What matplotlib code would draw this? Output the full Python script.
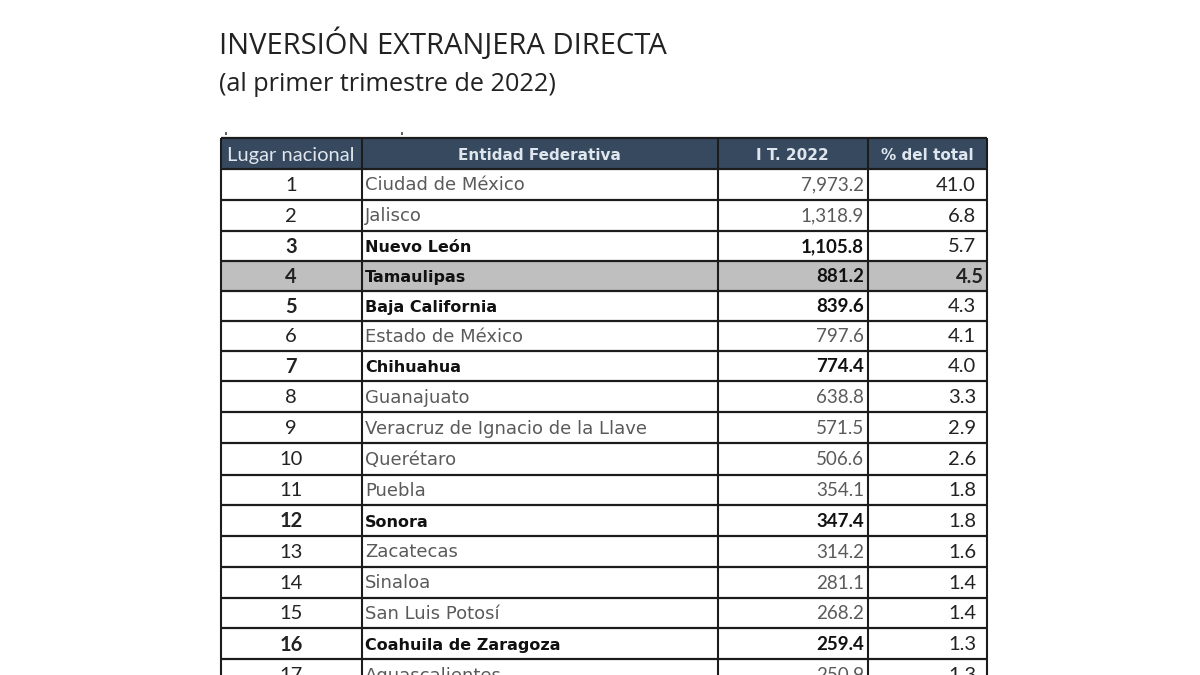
import matplotlib
matplotlib.use("Agg")
import matplotlib.pyplot as plt
from matplotlib.patches import Rectangle

title = "INVERSIÓN EXTRANJERA DIRECTA"
subtitle = "(al primer trimestre de 2022)"
headers = ["Lugar nacional", "Entidad Federativa", "I T. 2022", "% del total"]
ranks = ["1", "2", "3", "4", "5", "6", "7", "8", "9", "10", "11", "12", "13", "14", "15", "16", "17"]
states = ["Ciudad de México", "Jalisco", "Nuevo León", "Tamaulipas", "Baja California",
          "Estado de México", "Chihuahua", "Guanajuato", "Veracruz de Ignacio de la Llave",
          "Querétaro", "Puebla", "Sonora", "Zacatecas", "Sinaloa", "San Luis Potosí",
          "Coahuila de Zaragoza", "Aguascalientes"]
amounts = ["7,973.2", "1,318.9", "1,105.8", "881.2", "839.6", "797.6", "774.4", "638.8", "571.5",
           "506.6", "354.1", "347.4", "314.2", "281.1", "268.2", "259.4", "250.9"]
shares = ["41.0", "6.8", "5.7", "4.5", "4.3", "4.1", "4.0", "3.3", "2.9", "2.6", "1.8", "1.8",
          "1.6", "1.4", "1.4", "1.3", "1.3"]
bold_states = {"Nuevo León", "Tamaulipas", "Baja California", "Chihuahua", "Sonora", "Coahuila de Zaragoza"}
highlight = "Tamaulipas"

# layout (pixel grid of the page)
col_x = [220.5, 361.5, 717.5, 867.5, 986.5]
row_y = [138, 168.5, 199.5, 230.5, 260.5, 290.5, 320.5, 350.5, 381, 412, 443, 474.5, 505, 535.5, 566.5, 597.5, 628, 659, 690]
LINE = "#1c1c1c"
HEAD = "#36495f"
GREY = "#5a5a5a"
BODY = "Lato"

fig = plt.figure(figsize=(12, 6.75), dpi=100, facecolor="white")
ax = fig.add_axes([0, 0, 1, 1])
ax.set_xlim(0, 1200)
ax.set_ylim(675, 0)
ax.axis("off")

ax.text(219, 45, title, fontsize=21, family="Open Sans", color="#222222", va="center", ha="left")
ax.text(219, 84.5, subtitle, fontsize=18.2, family="Open Sans", color="#222222", va="center", ha="left")

# small specks above the table
ax.plot([226, 226], [131.5, 134.5], color="#444444", lw=1.2, solid_capstyle="butt")
ax.plot([402, 402], [131.5, 134.5], color="#444444", lw=1.2, solid_capstyle="butt")

ax.add_patch(Rectangle((col_x[0], row_y[0]), col_x[-1] - col_x[0], row_y[1] - row_y[0], fc=HEAD, ec="none"))
for i, h in enumerate(headers):
    cx = (col_x[i] + col_x[i + 1]) / 2
    ax.text(cx, 155.5, h, color="#dfe6ee", ha="center", va="center",
            family=BODY if i == 0 else "DejaVu Sans",
            fontsize=14.5 if i == 0 else 11, fontweight="normal" if i == 0 else "bold")

for r, st in enumerate(states):
    top, bot = row_y[r + 1], row_y[r + 2]
    cy = (top + bot) / 2 + 1.2
    if st == highlight:
        ax.add_patch(Rectangle((col_x[0], top), col_x[-1] - col_x[0], bot - top, fc="#bfbfbf", ec="none"))
    b = st in bold_states
    ink = "#111111" if b else GREY
    ax.text((col_x[0] + col_x[1]) / 2, cy, ranks[r], ha="center", va="center", family=BODY,
            fontsize=14.5, color="#222222", fontweight="bold" if b else "normal")
    ax.text(col_x[1] + 3.5, cy + (1 if b else 0), st, ha="left", va="center", family="DejaVu Sans",
            fontsize=11.5 if b else 13, color=ink, fontweight="bold" if b else "normal")
    ax.text(col_x[3] - 3.5, cy, amounts[r], ha="right", va="center", family=BODY,
            fontsize=13.5, color=ink, fontweight="bold" if b else "normal")
    ax.text(col_x[4] - 10.5 if st != highlight else col_x[4] - 3, cy, shares[r], ha="right", va="center",
            family=BODY, fontsize=14.5, color="#222222", fontweight="bold" if st == highlight else "normal")

for y in row_y[:-1]:
    ax.plot([col_x[0], col_x[-1]], [y, y], color=LINE, lw=1.6, solid_capstyle="butt")
for x in col_x:
    ax.plot([x, x], [row_y[0], 675], color=LINE, lw=1.5, solid_capstyle="butt")

fig.savefig("out.png", dpi=100)
